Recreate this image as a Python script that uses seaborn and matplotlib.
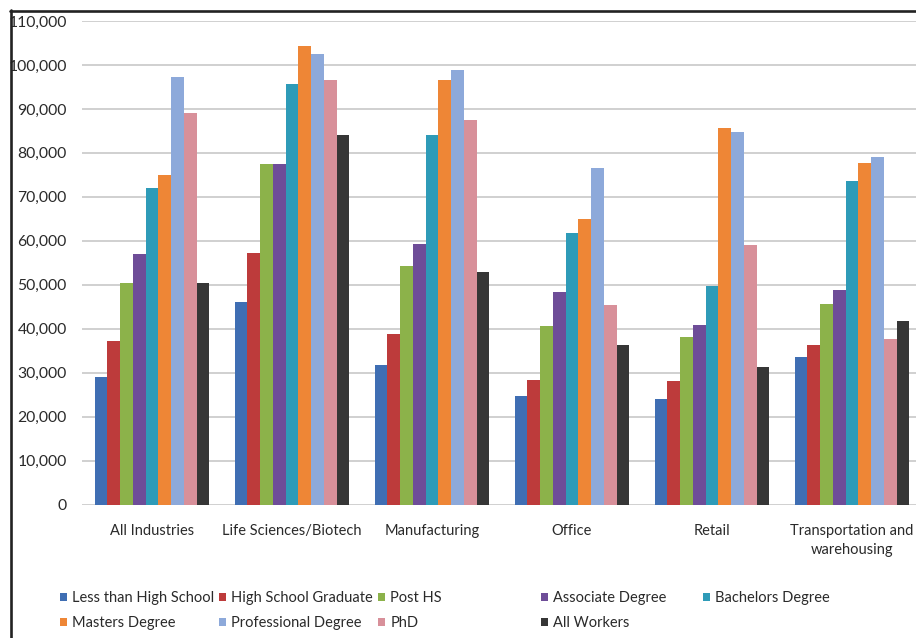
import matplotlib
matplotlib.use("Agg")
import matplotlib.pyplot as plt
from matplotlib.patches import Patch
from matplotlib.lines import Line2D
from matplotlib.ticker import FuncFormatter
import seaborn as sns
import pandas as pd

industries = ["All Industries", "Life Sciences/Biotech", "Manufacturing",
              "Office", "Retail", "Transportation and\nwarehousing"]
levels = ["Less than High School", "High School Graduate", "Post HS",
          "Associate Degree", "Bachelors Degree", "Masters Degree",
          "Professional Degree", "PhD", "All Workers"]

less_than_hs = [29000, 46100, 31800, 24600, 23900, 33500]
hs_graduate  = [37100, 57200, 38900, 28400, 28000, 36400]
post_hs      = [50400, 77500, 54300, 40500, 38200, 45700]
associate    = [56900, 77500, 59200, 48300, 40900, 48900]
bachelors    = [72100, 95600, 84000, 61700, 49800, 73700]
masters      = [74900, 104300, 96500, 65000, 85600, 77800]
professional = [97300, 102600, 98800, 76600, 84700, 79000]
phd          = [89000, 96600, 87400, 45400, 59000, 37600]
all_workers  = [50400, 84000, 52900, 36400, 31300, 41800]

series = [less_than_hs, hs_graduate, post_hs, associate, bachelors,
          masters, professional, phd, all_workers]

colors = ["#3F6EB3", "#BD3B3B", "#8CB24A", "#6E4D98", "#2E9BB8",
          "#EE8636", "#8DA9DA", "#D8909A", "#363636"]

y_ticks = list(range(0, 110001, 10000))

rows = []
for lvl, vals in zip(levels, series):
    for ind, v in zip(industries, vals):
        rows.append({"Industry": ind, "Level": lvl, "Value": v})
df = pd.DataFrame(rows)

sns.set_style("white")
plt.rcParams["font.family"] = ["Lato", "DejaVu Sans"]
text_color = "#2a2a2a"

W, H = 916, 638
fig = plt.figure(figsize=(W / 100, H / 100), dpi=100)
ax = fig.add_axes([82 / W, 1 - 504.5 / H, 840 / W, (504.5 - 21) / H])

sns.barplot(data=df, x="Industry", y="Value", hue="Level",
            order=industries, hue_order=levels, palette=colors,
            width=0.82, gap=0, saturation=1, linewidth=0,
            errorbar=None, legend=False, ax=ax)

ax.set_ylim(0, 110000)
ax.set_xlim(-0.5, len(industries) - 0.5)
ax.set_yticks(y_ticks)
ax.yaxis.set_major_formatter(FuncFormatter(lambda v, p: f"{int(v):,}"))
ax.set_xlabel("")
ax.set_ylabel("")
ax.grid(axis="y", color="#C4C4C4", linewidth=1.1)
ax.set_axisbelow(True)
for s in ax.spines.values():
    s.set_visible(False)
ax.tick_params(axis="y", length=0, pad=11, labelsize=11.3, labelcolor=text_color)
ax.tick_params(axis="x", length=0, pad=14, labelsize=10.5, labelcolor=text_color)
for lab in ax.get_xticklabels():
    lab.set_linespacing(1.5)
    lab.set_clip_on(False)

# legend: five fixed-width columns, two rows
col_x = [60, 219, 378, 541, 703]
columns = [[0, 5], [1, 6], [2, 7], [3, 8], [4]]
for cx, idxs in zip(col_x, columns):
    handles = [Patch(facecolor=colors[i], edgecolor="none") for i in idxs]
    labels = [levels[i] for i in idxs]
    fig.legend(handles, labels, loc="upper left",
               bbox_to_anchor=(cx / W, 1 - 591 / H),
               frameon=False, fontsize=10.5, handlelength=0.5,
               handleheight=0.5, handletextpad=0.35, labelspacing=0.78,
               borderaxespad=0, borderpad=0, labelcolor=text_color)

# outer frame (left and top edges visible)
fig.add_artist(Line2D([11 / W, 11 / W], [0, 1 - 10 / H], color="#222222",
                      linewidth=1.9, transform=fig.transFigure))
fig.add_artist(Line2D([10 / W, 1], [1 - 11 / H, 1 - 11 / H], color="#222222",
                      linewidth=1.9, transform=fig.transFigure))

fig.savefig("out.png", dpi=100)
